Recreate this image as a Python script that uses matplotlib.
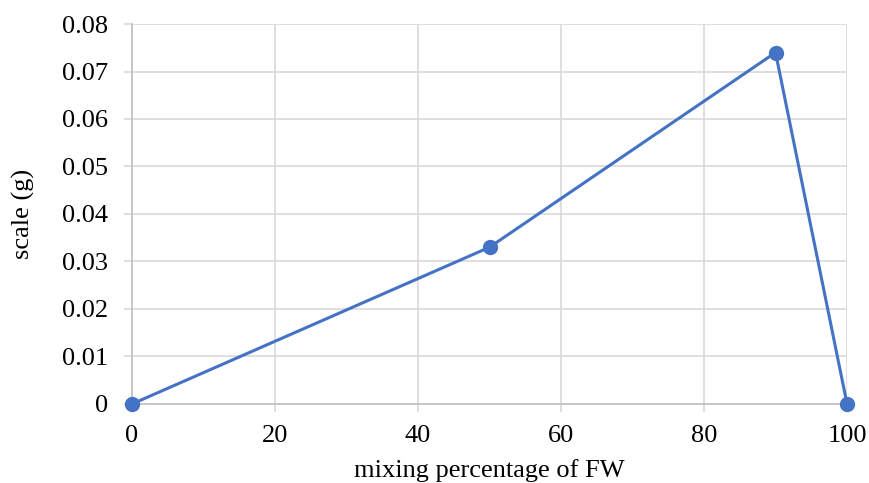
import matplotlib
matplotlib.use("Agg")
import matplotlib.pyplot as plt

# data
fw_percent = [0, 50, 90, 100]
scale_g = [0.0, 0.033, 0.074, 0.0]

x_ticks = [0, 20, 40, 60, 80, 100]
y_ticks = [0, 0.01, 0.02, 0.03, 0.04, 0.05, 0.06, 0.07, 0.08]
y_labels = ['0', '0.01', '0.02', '0.03', '0.04', '0.05', '0.06', '0.07', '0.08']

plt.rcParams['font.family'] = ['Liberation Serif', 'DejaVu Serif']

fig = plt.figure(figsize=(8.7, 4.83), dpi=100)
ax = fig.add_axes([0.1517, 0.1636, 0.8219, 0.7867])

grid_col = '#D9D9D9'
ax.plot(fw_percent, scale_g, color='#4472C4', lw=2.2, marker='o', ms=10,
        clip_on=False, zorder=3)

ax.set_xlim(0, 100)
ax.set_ylim(0, 0.08)
ax.set_xticks(x_ticks)
ax.set_yticks(y_ticks)
ax.set_yticklabels(y_labels)
ax.grid(True, color=grid_col, lw=1.2)
ax.set_axisbelow(True)

for s in ['top', 'right']:
    ax.spines[s].set_visible(False)
for s in ['left', 'bottom']:
    ax.spines[s].set_color('#BFBFBF')
    ax.spines[s].set_linewidth(1.2)

ax.tick_params(axis='both', direction='out', length=6, width=1.2,
               color=grid_col, labelsize=19, labelcolor='black')
ax.tick_params(axis='x', pad=9)
ax.tick_params(axis='y', pad=11.5)

# reference crops this label at the bottom edge; keep it just inside
ax.set_xlabel('mixing percentage of FW', fontsize=19, labelpad=9)
ax.set_ylabel('scale (g)', fontsize=19, labelpad=19)

fig.savefig('out.png', dpi=100)
